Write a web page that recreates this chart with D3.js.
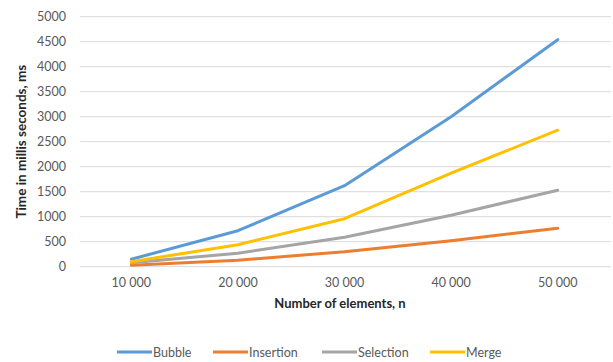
<!DOCTYPE html>
<html>
<head>
<meta charset="utf-8">
<script src="https://cdn.jsdelivr.net/npm/d3@7"></script>
<style>
  html, body { margin: 0; padding: 0; background: #fff; }
  svg { display: block; }
  text { font-family: Lato, "Open Sans", sans-serif; }
</style>
</head>
<body>
<svg id="chart" width="613" height="362"></svg>
<script>
// Sorting algorithm running times (ms) by input size
const categories = ["10 000", "20 000", "30 000", "40 000", "50 000"];
const bubble    = [150, 720, 1620, 3000, 4540];
const insertion = [30, 130, 300, 520, 770];
const selection = [80, 270, 590, 1030, 1530];
const merge     = [100, 440, 960, 1870, 2730];
const yTicks = [0, 500, 1000, 1500, 2000, 2500, 3000, 3500, 4000, 4500, 5000];

const series = [
  { name: "Bubble",    values: bubble,    color: "#5B9BD5" },
  { name: "Insertion", values: insertion, color: "#ED7D31" },
  { name: "Selection", values: selection, color: "#A5A5A5" },
  { name: "Merge",     values: merge,     color: "#FFC000" }
];

const svg = d3.select("#chart");
const plot = { left: 78, right: 611, top: 16.7, bottom: 266.7 };

const x = d3.scaleBand().domain(categories).range([plot.left, plot.right]);
const y = d3.scaleLinear().domain([0, 5000]).range([plot.bottom, plot.top]);

// horizontal gridlines
svg.append("g")
  .selectAll("line")
  .data(yTicks)
  .join("line")
  .attr("x1", plot.left + 2).attr("x2", plot.right)
  .attr("y1", d => y(d)).attr("y2", d => y(d))
  .attr("stroke", "#D9D9D9").attr("stroke-width", 1);

// y axis labels
const yAxis = d3.axisLeft(y).tickValues(yTicks).tickFormat(d3.format("d"))
  .tickSize(0).tickPadding(0);
const gy = svg.append("g").attr("transform", "translate(66,0)").call(yAxis);
gy.select(".domain").remove();
gy.selectAll("text")
  .attr("font-family", "Lato, 'Open Sans', sans-serif")
  .attr("font-size", 12.5).attr("fill", "#595959");

// x axis labels
const xAxis = d3.axisBottom(x).tickSize(0).tickPadding(0);
const gx = svg.append("g").attr("transform", "translate(0,278)").call(xAxis);
gx.select(".domain").remove();
gx.selectAll("text")
  .attr("font-family", "Lato, 'Open Sans', sans-serif")
  .attr("font-size", 12.5).attr("fill", "#595959");

// series lines
const line = d3.line()
  .x((d, i) => x(categories[i]) + x.bandwidth() / 2)
  .y(d => y(d));

svg.append("g")
  .selectAll("path")
  .data(series)
  .join("path")
  .attr("d", d => line(d.values))
  .attr("fill", "none")
  .attr("stroke", d => d.color)
  .attr("stroke-width", 3)
  .attr("stroke-linejoin", "round")
  .attr("stroke-linecap", "round");

// axis titles
svg.append("text")
  .attr("transform", `translate(26,${(plot.top + plot.bottom) / 2}) rotate(-90)`)
  .attr("text-anchor", "middle")
  .attr("font-size", 13.5).attr("font-weight", "bold").attr("fill", "#262626")
  .text("Time in millis seconds, ms");

svg.append("text")
  .attr("x", 340).attr("y", 308)
  .attr("text-anchor", "middle")
  .attr("font-size", 13).attr("font-weight", "bold").attr("fill", "#262626")
  .text("Number of elements, n");

// legend
const legendX = [117, 213, 322, 430];
const legend = svg.append("g")
  .selectAll("g")
  .data(series)
  .join("g")
  .attr("transform", (d, i) => `translate(${legendX[i]},352)`);
legend.append("line")
  .attr("x1", 0).attr("x2", 35).attr("y1", 0).attr("y2", 0)
  .attr("stroke", d => d.color).attr("stroke-width", 3);
legend.append("text")
  .attr("x", 36).attr("y", 4.5)
  .attr("font-size", 12.5).attr("fill", "#595959")
  .text(d => d.name);
</script>
</body>
</html>
